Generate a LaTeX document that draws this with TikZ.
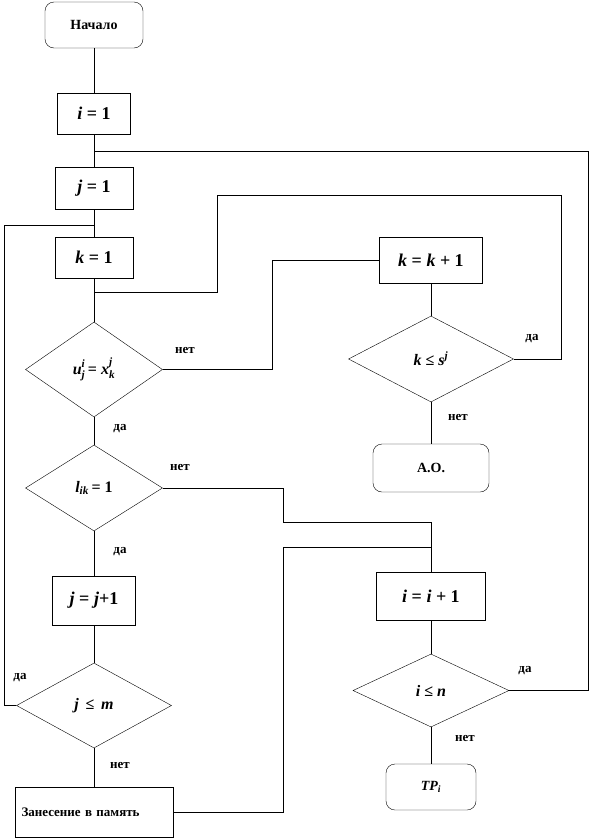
\documentclass[tikz,border=0pt]{standalone}
\usepackage{fontspec}
\usepackage{amsmath}
\setmainfont{Liberation Serif}
\usetikzlibrary{shapes.geometric}

% letter with index below and above
\newcommand{\idx}[3]{$\text{\textit{#1}}^{\text{\textit{#3}}}_{\text{\textit{#2}}}$}

\begin{document}
\begin{tikzpicture}[x=1pt, y=-1pt,
        term/.style={draw, rounded corners=9pt, font=\fontsize{14}{16}\selectfont\bfseries},
        proc/.style={draw, font=\fontsize{18}{20}\selectfont\bfseries},
        cond/.style={draw, diamond, inner sep=0pt, font=\fontsize{16}{18}\selectfont\bfseries},
        answer/.style={font=\fontsize{13}{15}\selectfont\bfseries}]

        \useasboundingbox (0,0) rectangle (594,838);

        % Left column
        \node[term, minimum width=98pt, minimum height=46pt] (start) at (94,25) {Начало};
        \node[proc, minimum width=73pt, minimum height=41pt] (i1) at (94,113.5) {\textit{i} = 1};
        \node[proc, minimum width=78pt, minimum height=42pt] (j1) at (94,188) {\textit{j} = 1};
        \node[proc, minimum width=78pt, minimum height=41pt] (k1) at (94,257.5) {\textit{k} = 1};
        \node[cond, minimum width=137pt, minimum height=95pt] (cu) at (94,369.5) {\idx{u}{j}{i}\,= \idx{x}{k}{j}};
        \node[cond, minimum width=137pt, minimum height=86pt] (cl) at (94,488) {\textit{l}\textsubscript{\textit{ik}}\,= 1};
        \node[proc, minimum width=83pt, minimum height=49pt] (jinc) at (94,600.5) {\textit{j} = \textit{j}+1};
        \node[cond, minimum width=155pt, minimum height=85pt] (cj) at (94,705.5) {\textit{j} \,≤\, \textit{m}};
        \node[proc, minimum width=158pt, minimum height=50pt, text width=145pt, align=left,
            font=\fontsize{13}{15}\selectfont\bfseries] (store) at (94,812) {Занесение в память};

        % Right column
        \node[proc, minimum width=103pt, minimum height=46pt] (kinc) at (431,260) {\textit{k} = \textit{k} + 1};
        \node[cond, minimum width=165pt, minimum height=86pt] (cs) at (431,359) {\textit{k} ≤ \textit{s}\textsuperscript{\textit{j}}};
        \node[term, minimum width=116pt, minimum height=48pt] (ao) at (431,468) {А.О.};
        \node[proc, minimum width=109pt, minimum height=48pt] (iinc) at (431,596) {\textit{i} = \textit{i} + 1};
        \node[cond, minimum width=156pt, minimum height=73pt] (cn) at (431,690.5) {\textit{i} ≤ \textit{n}};
        \node[term, minimum width=90pt, minimum height=46pt] (tp) at (431,787) {\textit{TP}\textsubscript{\textit{i}}};

        % Bends of the loops
        \coordinate (ijoin) at (94,151);
        \coordinate (iback) at (588,151);
        \coordinate (jjoin) at (94,225);
        \coordinate (jback) at (4,225);
        \coordinate (kjoin) at (94,292);
        \coordinate (kmid) at (217,195);
        \coordinate (kback) at (561,195);
        \coordinate (ubend) at (272,260);
        \coordinate (lbend) at (283,522);
        \coordinate (ljoin) at (431,522);
        \coordinate (sbend) at (283,547);
        \coordinate (sjoin) at (431,547);

        % Straight flow
        \foreach \a/\b in {start/i1, i1/j1, j1/k1, k1/cu, cu/cl, cl/jinc, jinc/cj, cj/store,
                kinc/cs, cs/ao, iinc/cn, cn/tp} {
                \draw (\a) -- (\b);
            }

        % Loops
        \draw (cn.east) -| (iback) -- (ijoin);
        \draw (cj.west) -| (jback) -- (jjoin);
        \draw (cs.east) -| (kback) -- (kmid) |- (kjoin);
        \draw (cu.east) -| (ubend) -- (kinc.west);
        \draw (cl.east) -| (lbend) -- (ljoin) -- (iinc.north);
        \draw (store.east) -| (sbend) -- (sjoin);

        % Answers
        \node[answer] (cu-no) at (185,350) {нет};
        \node[answer] (cu-yes) at (120,429) {да};
        \node[answer] (cl-no) at (180,467) {нет};
        \node[answer] (cl-yes) at (120,552) {да};
        \node[answer] (cj-yes) at (20,678) {да};
        \node[answer] (cj-no) at (120,765) {нет};
        \node[answer] (cs-yes) at (532,339) {да};
        \node[answer] (cs-no) at (458,417) {нет};
        \node[answer] (cn-yes) at (525,671) {да};
        \node[answer] (cn-no) at (465,738) {нет};
    \end{tikzpicture}
\end{document}
